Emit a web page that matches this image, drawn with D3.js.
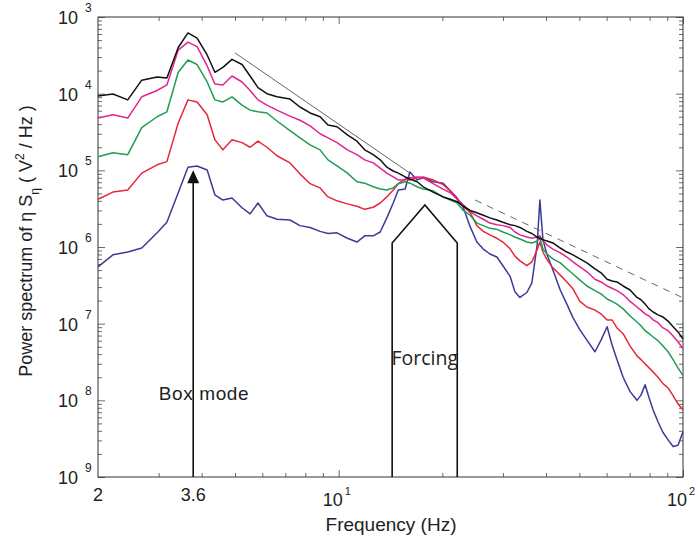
<!DOCTYPE html>
<html>
<head>
<meta charset="utf-8">
<script src="https://cdn.jsdelivr.net/npm/d3@7"></script>
<style>
  body { margin: 0; background: #fff; }
  svg text { font-family: "Liberation Sans", Arial, Helvetica, sans-serif; fill: #222; }
  .curve { fill: none; stroke-width: 1.5; stroke-linejoin: round; }
</style>
</head>
<body>
<div id="chart"></div>
<script>
// --- data ---
const freqs = [2.00, 2.21, 2.44, 2.68, 2.97, 3.17, 3.42, 3.65, 3.88, 4.15,
  4.37, 4.61, 4.90, 5.24, 5.53, 5.83, 6.19, 6.62, 7.22, 7.72,
  8.26, 8.83, 9.31, 9.89, 10.6, 11.3, 11.9, 12.6, 13.2, 13.8,
  14.4, 14.9, 15.6, 16.1, 16.9, 17.6, 18.8, 20.1, 21.1, 22.1,
  23.0, 24.1, 25.2, 26.3, 27.5, 28.8, 30.0, 31.5, 32.5, 33.6,
  35.2, 36.4, 37.7, 38.4, 39.2, 40.3, 41.9, 44.0, 46.0, 47.9,
  50.2, 52.6, 55.5, 57.8, 60.2, 62.2, 64.3, 67.0, 70.2, 73.5,
  75.5, 77.6, 79.7, 81.9, 84.6, 87.5, 90.5, 93.6, 96.7, 100];

const blackS = [9.3e-5, 9.9e-5, 8.3e-5, 1.5e-4, 1.65e-4, 1.6e-4, 4.0e-4, 6.2e-4, 5.3e-4, 3.2e-4,
  1.9e-4, 2.2e-4, 2.8e-4, 2.4e-4, 1.7e-4, 1.2e-4, 1.0e-4, 9.1e-5, 8.5e-5, 6.7e-5,
  5.6e-5, 5.0e-5, 3.9e-5, 3.7e-5, 2.9e-5, 2.4e-5, 1.85e-5, 1.6e-5, 1.37e-5, 1.1e-5,
  9.8e-6, 9.2e-6, 8.2e-6, 7.7e-6, 7.1e-6, 6.1e-6, 5.2e-6, 4.5e-6, 4.2e-6, 3.9e-6,
  3.4e-6, 3.0e-6, 2.8e-6, 2.6e-6, 2.4e-6, 2.25e-6, 2.1e-6, 1.95e-6, 1.9e-6, 1.8e-6,
  1.6e-6, 1.5e-6, 1.35e-6, 1.3e-6, 1.24e-6, 1.2e-6, 1.13e-6, 9.7e-7, 8.6e-7, 7.9e-7,
  7.0e-7, 6.2e-7, 5.2e-7, 4.6e-7, 3.8e-7, 3.6e-7, 3.5e-7, 3.1e-7, 2.75e-7, 2.2e-7,
  2.05e-7, 1.8e-7, 1.56e-7, 1.42e-7, 1.3e-7, 1.22e-7, 1.08e-7, 9.1e-8, 7.8e-8, 6.3e-8];

const magentaS = [4.8e-5, 5.3e-5, 4.8e-5, 9.1e-5, 1.1e-4, 1.3e-4, 3.7e-4, 4.7e-4, 4.1e-4, 2.3e-4,
  1.34e-4, 1.3e-4, 1.7e-4, 1.42e-4, 1.1e-4, 8.3e-5, 7.1e-5, 6.1e-5, 5.1e-5, 4.5e-5,
  3.8e-5, 3.0e-5, 2.65e-5, 2.3e-5, 1.85e-5, 1.6e-5, 1.37e-5, 1.25e-5, 1.07e-5, 9.2e-6,
  8.2e-6, 7.5e-6, 7.5e-6, 8.0e-6, 8.2e-6, 8.0e-6, 6.7e-6, 5.7e-6, 5.1e-6, 4.2e-6,
  3.55e-6, 2.9e-6, 2.55e-6, 2.3e-6, 2.05e-6, 1.95e-6, 1.9e-6, 1.8e-6, 1.57e-6, 1.44e-6,
  1.35e-6, 1.3e-6, 1.35e-6, 1.4e-6, 1.2e-6, 1.06e-6, 9.4e-7, 8.4e-7, 7.4e-7, 6.4e-7,
  5.5e-7, 4.75e-7, 3.8e-7, 3.5e-7, 3.1e-7, 2.9e-7, 2.7e-7, 2.4e-7, 1.95e-7, 1.65e-7,
  1.5e-7, 1.34e-7, 1.26e-7, 1.12e-7, 1.03e-7, 8.8e-8, 8.1e-8, 6.9e-8, 5.8e-8, 4.7e-8];

const greenS = [1.5e-5, 1.7e-5, 1.6e-5, 3.6e-5, 5.0e-5, 5.8e-5, 1.9e-4, 2.75e-4, 2.4e-4, 1.42e-4,
  8.3e-5, 7.8e-5, 9.1e-5, 7.1e-5, 6.1e-5, 5.8e-5, 5.6e-5, 4.4e-5, 3.3e-5, 2.65e-5,
  2.15e-5, 1.85e-5, 1.37e-5, 1.14e-5, 9.2e-6, 7.1e-6, 6.8e-6, 6.1e-6, 5.7e-6, 5.55e-6,
  5.9e-6, 6.7e-6, 7.1e-6, 6.8e-6, 6.1e-6, 5.7e-6, 5.4e-6, 4.5e-6, 4.1e-6, 3.75e-6,
  3.0e-6, 2.6e-6, 2.05e-6, 1.9e-6, 1.75e-6, 1.7e-6, 1.57e-6, 1.44e-6, 1.35e-6, 1.27e-6,
  1.16e-6, 1.13e-6, 1.2e-6, 1.3e-6, 9.4e-7, 8.1e-7, 7.0e-7, 6.2e-7, 5.2e-7, 4.45e-7,
  3.7e-7, 3.1e-7, 2.7e-7, 2.45e-7, 2.1e-7, 1.95e-7, 1.8e-7, 1.56e-7, 1.26e-7, 1.05e-7,
  9.4e-8, 8.1e-8, 7.4e-8, 6.7e-8, 6.0e-8, 5.1e-8, 4.3e-8, 3.4e-8, 2.65e-8, 2.1e-8];

const redS = [4.2e-6, 5.2e-6, 5.55e-6, 9.2e-6, 1.18e-5, 1.3e-5, 4.15e-5, 8.3e-5, 7.8e-5, 5.3e-5,
  2.5e-5, 1.85e-5, 2.5e-5, 2.3e-5, 2.0e-5, 2.4e-5, 2.0e-5, 1.55e-5, 1.25e-5, 9.0e-6,
  6.7e-6, 5.9e-6, 4.5e-6, 4.0e-6, 3.65e-6, 3.4e-6, 3.1e-6, 3.3e-6, 3.75e-6, 4.5e-6,
  5.55e-6, 6.7e-6, 7.7e-6, 7.5e-6, 8.0e-6, 8.2e-6, 7.5e-6, 6.5e-6, 5.4e-6, 4.2e-6,
  3.4e-6, 2.8e-6, 1.9e-6, 1.6e-6, 1.44e-6, 1.3e-6, 1.16e-6, 9.4e-7, 7.6e-7, 6.6e-7,
  5.7e-7, 6.4e-7, 9.2e-7, 1.16e-6, 8.6e-7, 6.8e-7, 5.35e-7, 4.3e-7, 3.5e-7, 2.85e-7,
  1.95e-7, 1.65e-7, 1.5e-7, 1.34e-7, 1.12e-7, 1.12e-7, 8.8e-8, 7.4e-8, 5.1e-8, 3.8e-8,
  3.4e-8, 3.0e-8, 2.65e-8, 2.35e-8, 2.0e-8, 1.65e-8, 1.45e-8, 1.15e-8, 9.0e-9, 7.5e-9];

const blueS = [5.5e-7, 7.9e-7, 8.6e-7, 9.7e-7, 1.53e-6, 2.1e-6, 5.1e-6, 1.1e-5, 1.14e-5, 1.01e-5,
  4.8e-6, 4.1e-6, 4.35e-6, 3.25e-6, 2.7e-6, 3.75e-6, 2.55e-6, 2.3e-6, 2.25e-6, 1.9e-6,
  1.8e-6, 1.6e-6, 1.5e-6, 1.53e-6, 1.3e-6, 1.16e-6, 1.4e-6, 1.4e-6, 1.57e-6, 2.4e-6,
  3.75e-6, 5.55e-6, 5.7e-6, 9.5e-6, 7.5e-6, 8.0e-6, 7.1e-6, 6.8e-6, 5.4e-6, 4.35e-6,
  3.3e-6, 1.83e-6, 1.16e-6, 9.4e-7, 8.1e-7, 7.4e-7, 5.7e-7, 4.1e-7, 2.6e-7, 2.2e-7,
  2.55e-7, 3.4e-7, 1.06e-6, 4.1e-6, 1.24e-6, 7.9e-7, 5.0e-7, 2.75e-7, 1.8e-7, 1.2e-7,
  8.3e-8, 6.1e-8, 4.3e-8, 6.1e-8, 9.1e-8, 5.3e-8, 3.4e-8, 2.0e-8, 1.3e-8, 1.0e-8,
  1.17e-8, 1.6e-8, 1.08e-8, 7.5e-9, 5.25e-9, 3.8e-9, 3.05e-9, 2.5e-9, 2.6e-9, 3.9e-9];

const seriesColors = ["#3b3b96", "#e5283a", "#1f9d55", "#e2248f", "#111111"];
const seriesData = [blueS, redS, greenS, magentaS, blackS];

// slope guides: f^-3 (solid) and f^-2 (dashed)
const solidGuideF = [5.0, 16.1];
const solidGuideS = [3.4e-4, 9.2e-6];
const dashGuideF = [24.9, 100];
const dashGuideS = [4.1e-6, 2.17e-7];

// forcing band (pentagon)
const forcingF = [14.3, 14.3, 17.8, 22.1, 22.1];
const forcingS = [1e-9, 1.13e-6, 3.54e-6, 1.13e-6, 1e-9];

// box mode arrow
const boxModeF = 3.78;
const boxModeTop = 1.0e-5;

const yTickValues = [1e-3, 1e-4, 1e-5, 1e-6, 1e-7, 1e-8, 1e-9];
const yTickExps = ["3", "4", "5", "6", "7", "8", "9"];
const xPlainTicks = [2, 3.78];
const xPlainLabels = ["2", "3.6"];
const xPowTicks = [10, 100];
const xPowExps = ["1", "2"];

// --- setup ---
const W = 698, H = 542;
const margin = {top: 17, right: 15, bottom: 65, left: 98};
const width = W - margin.left - margin.right;
const height = H - margin.top - margin.bottom;

const svg = d3.select("#chart").append("svg")
  .attr("width", W).attr("height", H);
const g = svg.append("g").attr("transform", `translate(${margin.left},${margin.top})`);

const x = d3.scaleLog().domain([2, 100]).range([0, width]);
const y = d3.scaleLog().domain([1e-9, 1e-3]).range([height, 0]);

// minor tick positions
const xMinor = [3, 4, 5, 6, 7, 8, 9, 20, 30, 40, 50, 60, 70, 80, 90];
const yMinor = [];
yTickValues.slice(0, -1).forEach(v => {
  for (let k = 2; k <= 9; k++) yMinor.push(v / 10 * k);
});

function tickAxis(axis, vals, size, transform) {
  const a = g.append("g")
    .attr("transform", transform || null)
    .call(axis.tickValues(vals).tickSize(size).tickFormat(""));
  a.select(".domain").remove();
  a.selectAll("line").attr("stroke", "#444").attr("stroke-width", 0.8);
}
tickAxis(d3.axisBottom(x), xMinor, -4, `translate(0,${height})`);
tickAxis(d3.axisTop(x), xMinor, -4);
tickAxis(d3.axisBottom(x), xPowTicks, -7, `translate(0,${height})`);
tickAxis(d3.axisTop(x), xPowTicks, -7);
tickAxis(d3.axisLeft(y), yMinor, -4);
tickAxis(d3.axisRight(y), yMinor, -4, `translate(${width},0)`);
tickAxis(d3.axisLeft(y), yTickValues, -7);
tickAxis(d3.axisRight(y), yTickValues, -7, `translate(${width},0)`);

// frame
g.append("rect").attr("width", width).attr("height", height)
  .attr("fill", "none").attr("stroke", "#333").attr("stroke-width", 1);

// --- curves ---
const line = d3.line().x(d => x(d[0])).y(d => y(d[1]));
seriesData.forEach((vals, i) => {
  g.append("path")
    .datum(freqs.map((f, j) => [f, vals[j]]))
    .attr("class", "curve")
    .attr("stroke", seriesColors[i])
    .attr("d", line);
});

// guides
g.append("path")
  .datum(solidGuideF.map((f, j) => [f, solidGuideS[j]]))
  .attr("d", line).attr("fill", "none").attr("stroke", "#555").attr("stroke-width", 0.9);
g.append("path")
  .datum(dashGuideF.map((f, j) => [f, dashGuideS[j]]))
  .attr("d", line).attr("fill", "none").attr("stroke", "#555").attr("stroke-width", 0.9)
  .attr("stroke-dasharray", "7,6");

// forcing pentagon
g.append("path")
  .datum(forcingF.map((f, j) => [f, forcingS[j]]))
  .attr("d", line).attr("fill", "none").attr("stroke", "#111").attr("stroke-width", 1.6);
g.append("text")
  .attr("x", x(Math.sqrt(14.3 * 22.1))).attr("y", 348)
  .attr("text-anchor", "middle").attr("font-size", 19.5)
  .style("font-family", "'Open Sans', 'Noto Sans', sans-serif")
  .text("Forcing");

// box mode arrow
const ax = x(boxModeF);
const tipY = y(boxModeTop);
g.append("line").attr("x1", ax).attr("x2", ax).attr("y1", height).attr("y2", tipY + 10)
  .attr("stroke", "#111").attr("stroke-width", 1.6);
g.append("path")
  .attr("d", `M${ax},${tipY} L${ax - 6},${tipY + 13} L${ax + 6},${tipY + 13} Z`)
  .attr("fill", "#111");
g.append("text").attr("x", 204 - margin.left).attr("y", 400 - margin.top)
  .attr("text-anchor", "middle").attr("font-size", 19)
  .style("font-family", "'Liberation Sans', Arial, sans-serif")
  .style("letter-spacing", "0.6px")
  .text("Box mode");

// --- tick labels ---
yTickValues.forEach((v, i) => {
  const ty = y(v);
  g.append("text").attr("x", -20).attr("y", ty + 7)
    .attr("text-anchor", "end").attr("font-size", 18).text("10");
  g.append("text").attr("x", -13).attr("y", ty - 5)
    .attr("text-anchor", "start").attr("font-size", 12).text(yTickExps[i]);
});
xPlainTicks.forEach((v, i) => {
  g.append("text").attr("x", x(v)).attr("y", height + 24)
    .attr("text-anchor", "middle").attr("font-size", 18).text(xPlainLabels[i]);
});
xPowTicks.forEach((v, i) => {
  const tx = x(v);
  g.append("text").attr("x", tx + 4).attr("y", height + 29)
    .attr("text-anchor", "end").attr("font-size", 18).text("10");
  g.append("text").attr("x", tx + 6).attr("y", height + 18)
    .attr("text-anchor", "start").attr("font-size", 11).text(xPowExps[i]);
});

// axis titles
svg.append("text").attr("x", 391).attr("y", 531)
  .attr("text-anchor", "middle").attr("font-size", 19).text("Frequency (Hz)");

const yt = svg.append("text")
  .attr("transform", "translate(32,241) rotate(-90)")
  .attr("text-anchor", "middle").attr("font-size", 18);
yt.append("tspan").text("Power spectrum of η S");
yt.append("tspan").attr("font-size", 12).attr("dy", 7).text("η");
yt.append("tspan").attr("dy", -7).text(" ( V");
yt.append("tspan").attr("font-size", 12).attr("dy", -8).text("2");
yt.append("tspan").attr("dy", 8).text(" / Hz )");
</script>
</body>
</html>
